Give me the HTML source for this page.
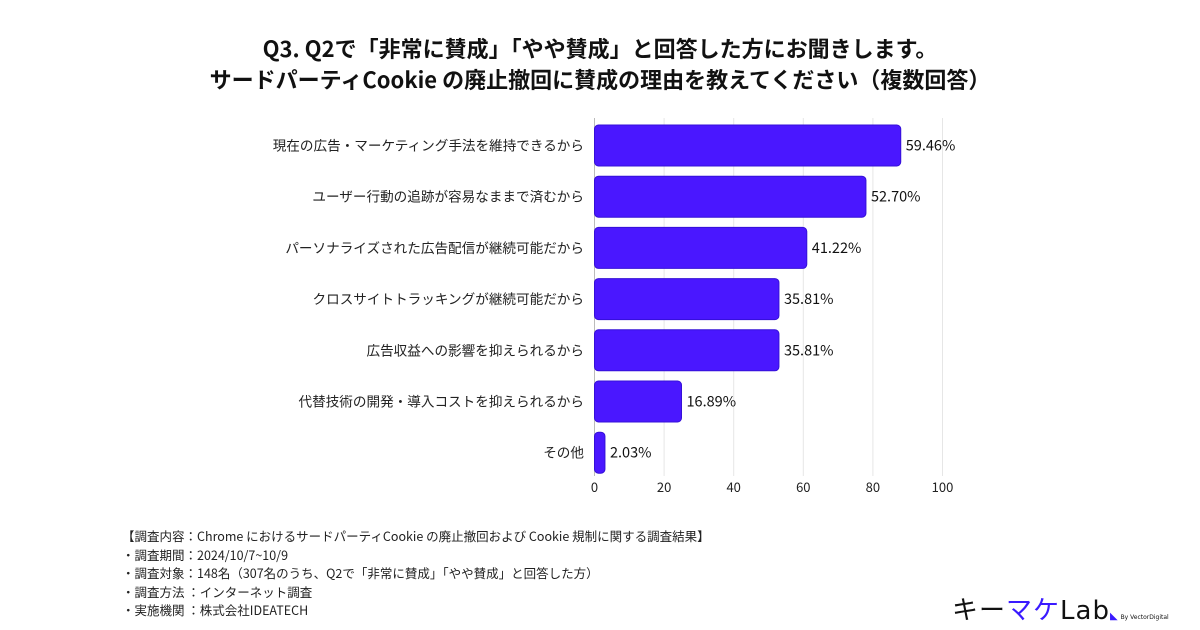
<!DOCTYPE html>
<html><head><meta charset="utf-8"><style>
body{margin:0;width:1200px;height:630px;background:#fff;overflow:hidden;font-family:"Liberation Sans","Noto Sans CJK JP",sans-serif;color:#111}
.t{position:absolute;left:0;width:1200px;text-align:center;font-weight:bold;font-size:22px;font-family:"Noto Sans CJK JP",sans-serif}
.note{position:absolute;left:122px;top:527px;font-size:12.5px;line-height:18.6px;font-family:"Noto Sans CJK JP",sans-serif;color:#222}
</style></head><body>
<div class="t" style="top:32px">Q3. Q2で「非常に賛成」「やや賛成」と回答した方にお聞きします。</div>
<div class="t" style="top:63px">サードパーティCookie の廃止撤回に賛成の理由を教えてください（複数回答）</div>
<svg id="chart" width="1200" height="630" style="position:absolute;left:0;top:0"></svg>
<div class="note">【調査内容：Chrome におけるサードパーティCookie の廃止撤回および Cookie 規制に関する調査結果】<br>・調査期間：2024/10/7~10/9<br>・調査対象：148名（307名のうち、Q2で「非常に賛成」「やや賛成」と回答した方）<br>・調査方法 ：インターネット調査<br>・実施機関 ：株式会社IDEATECH</div>
<div style="position:absolute;left:952px;top:590px;font-size:26px;font-family:'DejaVu Sans',sans-serif;letter-spacing:1px;white-space:nowrap"><span style="font-family:'Noto Sans CJK JP',sans-serif">キー<span style="color:#3a1aff">マケ</span></span>Lab<span style="color:#3a1aff;font-size:10px">◣</span><span style="font-size:6px;letter-spacing:0"> By VectorDigital</span></div>
<script>
const categories=["現在の広告・マーケティング手法を維持できるから","ユーザー行動の追跡が容易なままで済むから","パーソナライズされた広告配信が継続可能だから","クロスサイトトラッキングが継続可能だから","広告収益への影響を抑えられるから","代替技術の開発・導入コストを抑えられるから","その他"];
const counts=[88,78,61,53,53,25,3];
const pctLabels=["59.46%","52.70%","41.22%","35.81%","35.81%","16.89%","2.03%"];
const ticks=[0,20,40,60,80,100];
const svg=document.getElementById('chart');const NS="http://www.w3.org/2000/svg";
const x=v=>594.5+v*3.48;const y=i=>125+i*51.2;const bh=41;
const F='Noto Sans CJK JP, sans-serif';
function mk(t,a,txt){const e=document.createElementNS(NS,t);for(const k in a)e.setAttribute(k,a[k]);if(txt!==undefined)e.textContent=txt;svg.appendChild(e);return e;}
ticks.forEach(t=>{
const g=mk('line',{x1:x(t),x2:x(t),y1:118,y2:476,stroke:t===0?'#bbb':'#e6e6e6','stroke-width':1});


const l=mk('text',{x:x(t),y:492,'text-anchor':'middle','font-size':13,'font-family':F,fill:'#222'},t);


});
categories.forEach((c,i)=>{
const b=mk('rect',{x:x(0),y:y(i),width:x(counts[i])-x(0),height:bh,rx:4,fill:'#4a17ff',stroke:'#3510d8','stroke-width':1});


const v=mk('text',{x:x(counts[i])+5,y:y(i)+bh/2+5,'font-size':14.5,'font-family':F,fill:'#111'},pctLabels[i]);


const l=mk('text',{x:584,y:y(i)+bh/2+5,'text-anchor':'end','font-size':13.6,'font-family':F,fill:'#222'},c);


});
</script>
</body></html>
